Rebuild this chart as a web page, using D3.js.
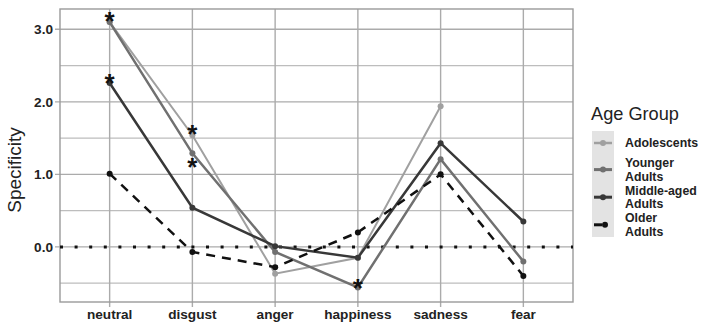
<!DOCTYPE html>
<html lang="en">
<head>
  <meta charset="UTF-8" />
  <title>Specificity by Age Group</title>
  <script src="https://d3js.org/d3.v7.min.js"></script>
  <style>
    * { margin: 0; padding: 0; }
    body { background: #fff; font-family: 'Liberation Sans', Arial, sans-serif; }
    svg { display: block; }
  </style>
</head>
<body>
  <svg id="chart" width="709" height="325"></svg>

  <script>
    const emotions = ['neutral', 'disgust', 'anger', 'happiness', 'sadness', 'fear'];
    const groups = ['Adolescents', 'Younger Adults', 'Middle-aged Adults', 'Older Adults'];

    // null = no value
    const adolescents = [3.10, 1.54, -0.37, -0.15, 1.94, null];
    const youngerAdults = [3.10, 1.29, -0.07, -0.56, 1.21, -0.20];
    const middleAgedAdults = [2.26, 0.54, 0.01, -0.15, 1.43, 0.35];
    const olderAdults = [1.01, -0.07, -0.28, 0.20, 1.00, -0.40];

    const yTicks = [0, 1, 2, 3];
    const yMinor = [-0.5, 0.5, 1.5, 2.5];

    // significance markers: [emotion, value]
    const stars = [
      ['neutral', 3.20], ['neutral', 2.34],
      ['disgust', 1.63], ['disgust', 1.18],
      ['happiness', -0.48]
    ];

    const series = [
      { name: groups[0], values: adolescents, color: '#a0a0a0', width: 2, dash: null },
      { name: groups[1], values: youngerAdults, color: '#707070', width: 2.5, dash: null },
      { name: groups[2], values: middleAgedAdults, color: '#383838', width: 2.5, dash: null },
      { name: groups[3], values: olderAdults, color: '#111', width: 2.5, dash: '9,7' }
    ];

    const svg = d3.select('#chart');
    const panel = { left: 60, right: 573, top: 9, bottom: 302 };

    const x = d3.scalePoint().domain(emotions).range([panel.left, panel.right]).padding(0.6);
    const y = d3.scaleLinear().domain([-0.76, 3.28]).range([panel.bottom, panel.top]);

    const grid = svg.append('g');
    grid.selectAll('.minor').data(yMinor).enter().append('line')
      .attr('x1', panel.left).attr('x2', panel.right)
      .attr('y1', d => y(d)).attr('y2', d => y(d))
      .attr('stroke', '#bdbdbd').attr('stroke-width', 1.2);
    grid.selectAll('.major').data(yTicks).enter().append('line')
      .attr('x1', panel.left - 5).attr('x2', panel.right)
      .attr('y1', d => y(d)).attr('y2', d => y(d))
      .attr('stroke', '#ababab').attr('stroke-width', 1.4);
    grid.selectAll('.vert').data(emotions).enter().append('line')
      .attr('x1', d => x(d)).attr('x2', d => x(d))
      .attr('y1', panel.top).attr('y2', panel.bottom + 5)
      .attr('stroke', '#ababab').attr('stroke-width', 1.4);

    svg.append('rect')
      .attr('x', panel.left).attr('y', panel.top)
      .attr('width', panel.right - panel.left).attr('height', panel.bottom - panel.top)
      .attr('fill', 'none').attr('stroke', '#9a9a9a').attr('stroke-width', 1.4);

    // zero reference
    svg.append('line')
      .attr('x1', panel.left).attr('x2', panel.right)
      .attr('y1', y(0)).attr('y2', y(0))
      .attr('stroke', '#111').attr('stroke-width', 3)
      .attr('stroke-dasharray', '3,11.6');

    // axis labels
    const labelSize = 13.6;
    svg.selectAll('.ylab').data(yTicks).enter().append('text')
      .attr('x', panel.left - 7).attr('y', d => y(d)).attr('dy', '0.35em')
      .attr('text-anchor', 'end').attr('font-size', labelSize).attr('font-weight', 'bold')
      .attr('fill', '#222').text(d => d.toFixed(1));
    svg.selectAll('.xlab').data(emotions).enter().append('text')
      .attr('x', d => x(d)).attr('y', 319)
      .attr('text-anchor', 'middle').attr('font-size', labelSize).attr('font-weight', 'bold')
      .attr('fill', '#222').text(d => d);
    svg.append('text')
      .attr('transform', 'translate(21,170) rotate(-90)')
      .attr('text-anchor', 'middle').attr('font-size', 19).attr('fill', '#222')
      .text('Specificity');

    // lines
    const line = d3.line()
      .defined(d => d != null)
      .x((d, i) => x(emotions[i]))
      .y(d => y(d));

    series.forEach(s => {
      svg.append('path').datum(s.values)
        .attr('d', line)
        .attr('fill', 'none').attr('stroke', s.color).attr('stroke-width', s.width)
        .attr('stroke-dasharray', s.dash);
      svg.selectAll(null).data(s.values.map((v, i) => [emotions[i], v]).filter(d => d[1] != null))
        .enter().append('circle')
        .attr('cx', d => x(d[0])).attr('cy', d => y(d[1]))
        .attr('r', 3).attr('fill', s.color);
    });

    // stars
    const starSize = 26;
    svg.selectAll('.star').data(stars).enter().append('text')
      .attr('x', d => x(d[0])).attr('y', d => y(d[1]) + starSize * 0.57)
      .attr('text-anchor', 'middle').attr('font-size', starSize).attr('font-weight', 'bold')
      .attr('fill', '#111').text('*');

    // legend
    const lg = svg.append('g');
    lg.append('text').attr('x', 591).attr('y', 120)
      .attr('font-size', 18.2).attr('fill', '#222').text('Age Group');
    lg.append('rect').attr('x', 592).attr('y', 131)
      .attr('width', 22).attr('height', 106).attr('fill', '#e3e3e3');

    const legendSize = 12.3;
    const lineGap = 13.8;
    const labelLines = [['Adolescents'], ['Younger', 'Adults'], ['Middle-aged', 'Adults'], ['Older', 'Adults']];
    let cursor = 143;
    series.forEach((s, i) => {
      const lines = labelLines[i];
      const top = i === 0 ? cursor : cursor + 5.9;
      const keyY = top + (lines.length - 1) * lineGap / 2;
      lg.append('line')
        .attr('x1', 594).attr('x2', 612).attr('y1', keyY).attr('y2', keyY)
        .attr('stroke', s.color).attr('stroke-width', s.width + 0.5)
        .attr('stroke-dasharray', s.dash ? '8,12' : null);
      lg.append('circle').attr('cx', 603 + (s.dash ? 2 : 0)).attr('cy', keyY)
        .attr('r', 3).attr('fill', s.color);
      lines.forEach((l, j) => {
        lg.append('text').attr('x', 625)
          .attr('y', top + j * lineGap)
          .attr('dy', '0.35em')
          .attr('font-size', legendSize).attr('font-weight', 'bold').attr('fill', '#222')
          .text(l);
      });
      cursor = top + (lines.length - 1) * lineGap + (i === 0 ? 13.8 : 0);
      if (i > 0) cursor += lineGap - 5.9;
    });
  </script>
</body>
</html>
